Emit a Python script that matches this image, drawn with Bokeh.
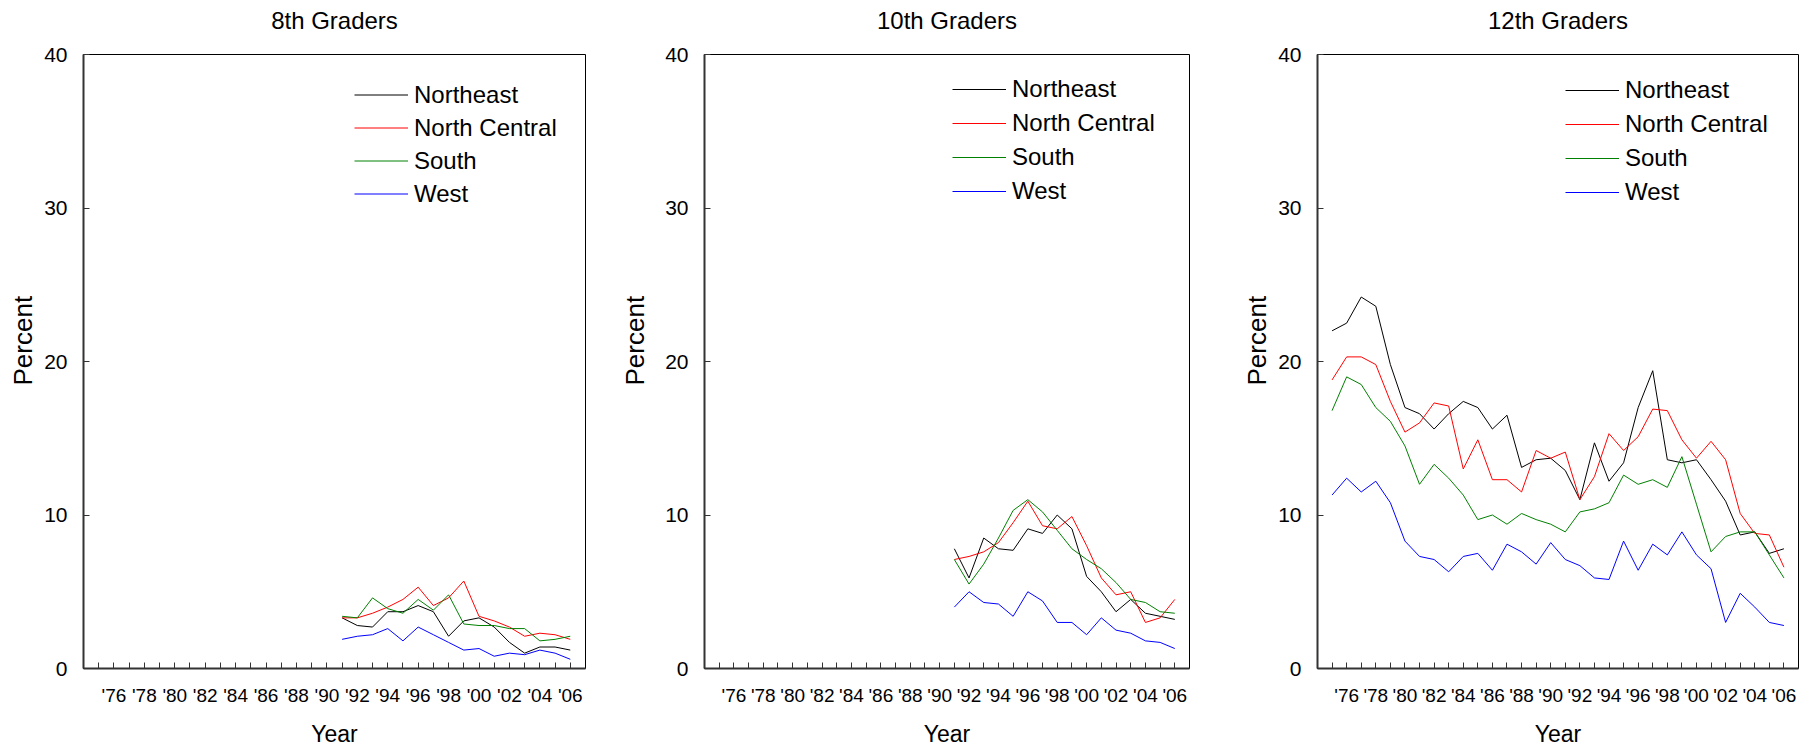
from bokeh.plotting import figure
from bokeh.models import Range1d, FixedTicker, Legend, LegendItem, Title, LinearAxis
from bokeh.layouts import row
from bokeh.embed import file_html
from bokeh.resources import INLINE

# ---------------- data ----------------
years_8_10 = list(range(1991, 2007))
years_12 = list(range(1975, 2007))

regions = ["Northeast", "North Central", "South", "West"]
colors = ["#000000", "#ff0000", "#008000", "#0000ff"]

g8_northeast = [3.3, 2.8, 2.7, 3.7, 3.7, 4.1, 3.7, 2.1, 3.1, 3.3, 2.7, 1.7, 1.0, 1.4, 1.4, 1.2]
g8_north_central = [3.3, 3.3, 3.6, 4.0, 4.5, 5.3, 4.1, 4.6, 5.7, 3.4, 3.1, 2.7, 2.1, 2.3, 2.2, 1.9]
g8_south = [3.4, 3.3, 4.6, 3.9, 3.6, 4.5, 3.8, 4.8, 2.9, 2.8, 2.8, 2.6, 2.6, 1.8, 1.9, 2.1]
g8_west = [1.9, 2.1, 2.2, 2.6, 1.8, 2.7, 2.2, 1.7, 1.2, 1.3, 0.8, 1.0, 0.9, 1.2, 1.0, 0.6]

g10_northeast = [7.8, 5.9, 8.5, 7.8, 7.7, 9.1, 8.8, 10.0, 9.1, 6.0, 5.0, 3.7, 4.5, 3.6, 3.4, 3.2]
g10_north_central = [7.1, 7.3, 7.6, 8.2, 9.5, 10.9, 9.3, 9.1, 9.9, 8.0, 5.9, 4.8, 5.0, 3.0, 3.3, 4.5]
g10_south = [7.1, 5.5, 6.8, 8.5, 10.3, 11.0, 10.2, 9.0, 7.8, 7.1, 6.5, 5.6, 4.5, 4.3, 3.7, 3.6]
g10_west = [4.0, 5.0, 4.3, 4.2, 3.4, 5.0, 4.4, 3.0, 3.0, 2.2, 3.3, 2.5, 2.3, 1.8, 1.7, 1.3]

g12_northeast = [22.0, 22.5, 24.2, 23.6, 19.8, 17.0, 16.6, 15.6, 16.6, 17.4,
                 17.0, 15.6, 16.5, 13.1, 13.6, 13.7, 12.9, 11.0, 14.7, 12.2,
                 13.4, 17.0, 19.4, 13.6, 13.4, 13.6, 12.3, 10.9, 8.7, 8.9,
                 7.5, 7.8]
g12_north_central = [18.8, 20.3, 20.3, 19.8, 17.4, 15.4, 16.0, 17.3, 17.1, 13.0,
                     14.9, 12.3, 12.3, 11.5, 14.2, 13.7, 14.1, 11.0, 12.5, 15.3,
                     14.2, 15.1, 16.9, 16.8, 14.9, 13.7, 14.8, 13.6, 10.1, 8.8,
                     8.7, 6.6]
g12_south = [16.8, 19.0, 18.5, 17.0, 16.1, 14.5, 12.0, 13.3, 12.4, 11.3,
             9.7, 10.0, 9.4, 10.1, 9.7, 9.4, 8.9, 10.2, 10.4, 10.8,
             12.6, 12.0, 12.3, 11.8, 13.8, 10.7, 7.6, 8.6, 8.9, 8.9,
             7.4, 5.9]
g12_west = [11.3, 12.4, 11.5, 12.2, 10.8, 8.3, 7.3, 7.1, 6.3, 7.3,
            7.5, 6.4, 8.1, 7.6, 6.8, 8.2, 7.1, 6.7, 5.9, 5.8,
            8.3, 6.4, 8.1, 7.4, 8.9, 7.4, 6.5, 3.0, 4.9, 4.0,
            3.0, 2.8]

xtick_years = list(range(1976, 2007, 2))
xtick_labels = ["'76", "'78", "'80", "'82", "'84", "'86", "'88", "'90",
                "'92", "'94", "'96", "'98", "'00", "'02", "'04", "'06"]
minor_years = list(range(1975, 2006, 2))
ytick_values = [0, 10, 20, 30, 40]

FONT = "Liberation Sans"
FRAME_H = 614


def make_panel(title, years, series, b_left, f_width, b_right, leg_loc, leg_row, ylab_standoff):
    p = figure(frame_width=f_width, frame_height=FRAME_H,
               min_border_left=b_left, min_border_right=b_right,
               min_border_top=54, min_border_bottom=70,
               x_range=Range1d(1974, 2007), y_range=Range1d(0, 40),
               output_backend="svg", toolbar_location=None, title=None)

    p.xgrid.visible = False
    p.ygrid.visible = False
    p.outline_line_color = "#000000"
    p.outline_line_width = 1
    p.background_fill_color = "white"
    p.border_fill_color = "white"

    xa = p.xaxis[0]
    xa.ticker = FixedTicker(ticks=xtick_years, minor_ticks=minor_years)
    xa.major_label_overrides = {y: l for y, l in zip(xtick_years, xtick_labels)}
    xa.major_tick_in = 6
    xa.major_tick_out = 0
    xa.minor_tick_in = 6
    xa.minor_tick_out = 0
    xa.axis_line_width = 2
    xa.axis_line_color = "#333333"
    xa.major_tick_line_color = "#333333"
    xa.minor_tick_line_color = "#333333"
    xa.major_label_text_font = FONT
    xa.major_label_text_font_size = "19px"
    xa.major_label_text_color = "#000000"
    xa.major_label_standoff = 16
    xa.axis_label = "Year"
    xa.axis_label_text_font = FONT
    xa.axis_label_text_font_size = "23px"
    xa.axis_label_text_font_style = "normal"
    xa.axis_label_text_color = "#000000"
    xa.axis_label_standoff = 12

    ya = p.yaxis[0]
    ya.ticker = FixedTicker(ticks=ytick_values)
    ya.major_tick_in = 6
    ya.major_tick_out = 0
    ya.minor_tick_in = 0
    ya.minor_tick_out = 0
    ya.axis_line_width = 2
    ya.axis_line_color = "#333333"
    ya.major_tick_line_color = "#333333"
    ya.major_label_text_font = FONT
    ya.major_label_text_font_size = "21px"
    ya.major_label_text_color = "#000000"
    ya.major_label_standoff = 16

    # invisible spacer (nearest the frame), then the panel title above it
    spacer = LinearAxis(ticker=FixedTicker(ticks=[2000]), major_label_overrides={2000: ""},
                        axis_line_color=None, major_tick_line_color=None,
                        minor_tick_line_color=None,
                        major_tick_in=0, major_tick_out=21, minor_tick_in=0, minor_tick_out=0,
                        major_label_standoff=0, major_label_text_font_size="0px")
    p.add_layout(spacer, "above")
    p.add_layout(Title(text=title, align="center", vertical_align="bottom", standoff=0,
                       text_font=FONT, text_font_size="24px", text_font_style="normal",
                       text_color="#000000"), "above")

    # y axis title, rotated, placed slightly above the frame's middle
    p.add_layout(Title(text="Percent", align="left", vertical_align="bottom",
                       offset=283, standoff=ylab_standoff,
                       text_font=FONT, text_font_size="26px", text_font_style="normal",
                       text_color="#000000"), "left")

    items = []
    for name, vals, col in zip(regions, series, colors):
        r = p.line(years, vals, line_color=col, line_width=1)
        items.append(LegendItem(label=name, renderers=[r]))

    leg = Legend(items=items, location=leg_loc,
                 glyph_width=54, glyph_height=leg_row, label_height=leg_row,
                 spacing=0, padding=0, margin=0, label_standoff=6,
                 border_line_color=None, background_fill_alpha=0,
                 label_text_font=FONT, label_text_font_size="24px",
                 label_text_color="#000000")
    p.add_layout(leg)
    return p


p1 = make_panel("8th Graders", years_8_10,
                [g8_northeast, g8_north_central, g8_south, g8_west],
                83, 502, 15, (271, 458), 33, 7)
p2 = make_panel("10th Graders", years_8_10,
                [g10_northeast, g10_north_central, g10_south, g10_west],
                104, 485, 10, (248, 460), 34, 26)
p3 = make_panel("12th Graders", years_12,
                [g12_northeast, g12_north_central, g12_south, g12_west],
                118, 481, 16, (248, 459), 34, 8)

layout = row(p1, p2, p3)

with open("out.html", "w") as f:
    f.write(file_html(layout, INLINE))
